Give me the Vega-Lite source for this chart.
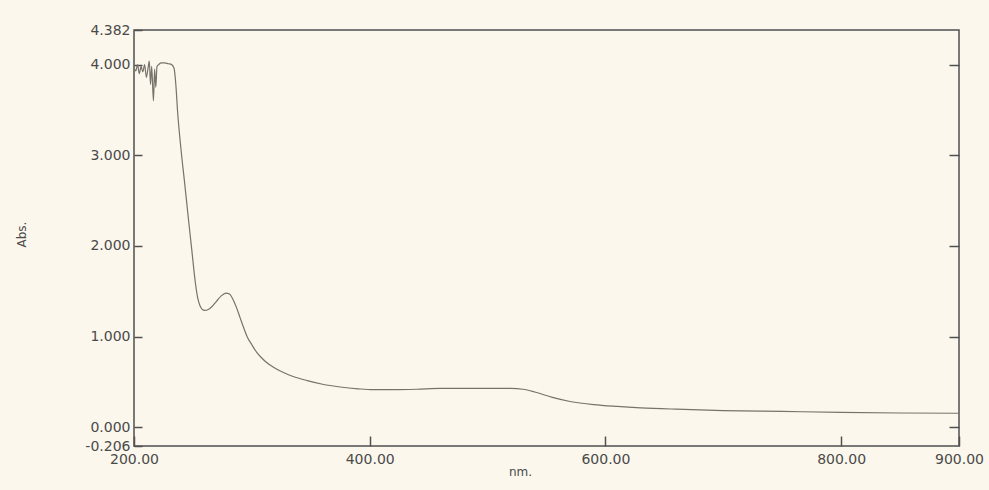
{
  "$schema": "https://vega.github.io/schema/vega-lite/v6.json",
  "width": 825,
  "height": 416,
  "autosize": {"type": "none"},
  "padding": {"left": 134, "top": 30, "right": 30, "bottom": 44},
  "background": "#fcf7ec",
  "config": {
    "view": {"stroke": "#505050", "strokeWidth": 1.5},
    "axis": {
      "domain": false,
      "grid": false,
      "labelFont": "DejaVu Sans",
      "labelFontSize": 14,
      "labelColor": "#4a4a4a",
      "titleFont": "DejaVu Sans",
      "titleFontSize": 12,
      "titleFontWeight": "normal",
      "titleColor": "#4a4a4a",
      "tickColor": "#505050",
      "tickWidth": 1.5,
      "labelFlush": false,
      "labelOverlap": false
    }
  },
  "data": {
    "values": [
      {"nm": 200, "abs": 3.97}, {"nm": 201.5, "abs": 3.93}, {"nm": 203, "abs": 4.0},
      {"nm": 204.5, "abs": 3.9}, {"nm": 206, "abs": 3.98}, {"nm": 207.5, "abs": 3.92},
      {"nm": 209, "abs": 4.0}, {"nm": 210.5, "abs": 3.86}, {"nm": 212, "abs": 3.97},
      {"nm": 213, "abs": 4.04}, {"nm": 214, "abs": 3.78}, {"nm": 215, "abs": 3.98},
      {"nm": 216.5, "abs": 3.6}, {"nm": 217.5, "abs": 3.95}, {"nm": 218.5, "abs": 3.75},
      {"nm": 219.5, "abs": 3.98}, {"nm": 221, "abs": 4.0}, {"nm": 223, "abs": 4.02},
      {"nm": 226, "abs": 4.02}, {"nm": 229, "abs": 4.01}, {"nm": 232, "abs": 4.0},
      {"nm": 234, "abs": 3.96}, {"nm": 235.5, "abs": 3.78}, {"nm": 237, "abs": 3.48},
      {"nm": 240, "abs": 3.05}, {"nm": 243, "abs": 2.69}, {"nm": 246, "abs": 2.32},
      {"nm": 249, "abs": 1.96}, {"nm": 252, "abs": 1.6}, {"nm": 254, "abs": 1.43},
      {"nm": 256, "abs": 1.34}, {"nm": 258, "abs": 1.3}, {"nm": 260, "abs": 1.29},
      {"nm": 263, "abs": 1.3}, {"nm": 266, "abs": 1.33}, {"nm": 270, "abs": 1.39},
      {"nm": 274, "abs": 1.45}, {"nm": 278, "abs": 1.48}, {"nm": 281, "abs": 1.47},
      {"nm": 284, "abs": 1.41}, {"nm": 287, "abs": 1.32}, {"nm": 290, "abs": 1.21},
      {"nm": 293, "abs": 1.1}, {"nm": 296, "abs": 1.0}, {"nm": 300, "abs": 0.91},
      {"nm": 304, "abs": 0.83}, {"nm": 308, "abs": 0.77}, {"nm": 312, "abs": 0.72},
      {"nm": 318, "abs": 0.665}, {"nm": 325, "abs": 0.615}, {"nm": 335, "abs": 0.56},
      {"nm": 347, "abs": 0.515}, {"nm": 360, "abs": 0.475}, {"nm": 375, "abs": 0.445},
      {"nm": 390, "abs": 0.425}, {"nm": 403, "abs": 0.415}, {"nm": 420, "abs": 0.415},
      {"nm": 440, "abs": 0.42}, {"nm": 460, "abs": 0.43}, {"nm": 480, "abs": 0.43},
      {"nm": 500, "abs": 0.43}, {"nm": 520, "abs": 0.43}, {"nm": 530, "abs": 0.42},
      {"nm": 540, "abs": 0.39}, {"nm": 555, "abs": 0.33}, {"nm": 570, "abs": 0.285},
      {"nm": 590, "abs": 0.25}, {"nm": 610, "abs": 0.23}, {"nm": 630, "abs": 0.215},
      {"nm": 660, "abs": 0.2}, {"nm": 700, "abs": 0.185}, {"nm": 750, "abs": 0.175},
      {"nm": 800, "abs": 0.165}, {"nm": 850, "abs": 0.158}, {"nm": 900, "abs": 0.155}
    ]
  },
  "layer": [
    {
      "mark": {"type": "line", "color": "#77726b", "strokeWidth": 1.2, "interpolate": "monotone"},
      "encoding": {
        "x": {
          "field": "nm", "type": "quantitative",
          "scale": {"domain": [200, 900], "nice": false, "zero": false},
          "axis": {
            "title": "nm.", "values": [200, 400, 600, 800, 900], "format": ".2f",
            "tickSize": -10, "labelPadding": 16, "titleX": 386, "titleY": 20
          }
        },
        "y": {
          "field": "abs", "type": "quantitative",
          "scale": {"domain": [-0.206, 4.382], "nice": false, "zero": false},
          "axis": {
            "title": "Abs.", "values": [-0.206, 0, 1, 2, 3, 4, 4.382], "format": ".3f",
            "labelExpr": "replace(datum.label, '\u2212', '-')",
            "tickSize": -8, "labelPadding": 12, "titleX": -106, "titleY": 204
          }
        }
      }
    },
    {
      "mark": {"type": "line", "opacity": 0},
      "encoding": {
        "x": {"field": "nm", "type": "quantitative"},
        "y": {
          "field": "abs", "type": "quantitative",
          "axis": {"orient": "right", "title": null, "labels": false, "values": [0, 1, 2, 3, 4], "tickSize": -10}
        }
      }
    }
  ],
  "resolve": {"axis": {"y": "independent"}}
}
